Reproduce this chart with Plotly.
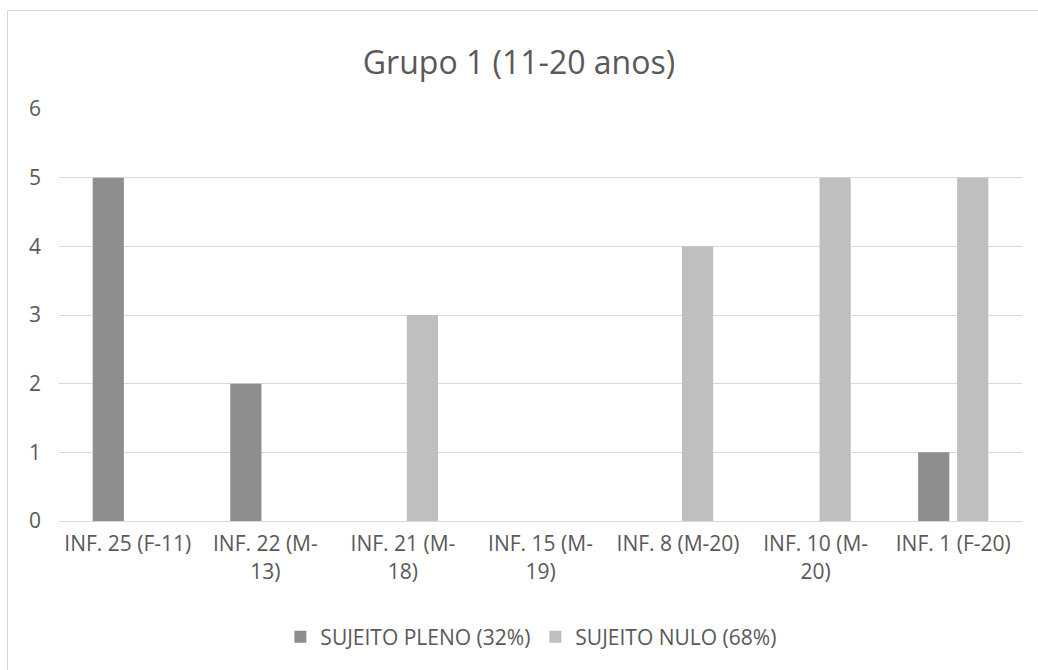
import plotly.graph_objects as go

# Informants (categories) and wrapped tick labels
categories = ["INF. 25 (F-11)", "INF. 22 (M-13)", "INF. 21 (M-18)", "INF. 15 (M-19)",
              "INF. 8 (M-20)", "INF. 10 (M-20)", "INF. 1 (F-20)"]
tick_labels = ["INF. 25 (F-11)", "INF. 22 (M-<br>13)", "INF. 21 (M-<br>18)", "INF. 15 (M-<br>19)",
               "INF. 8 (M-20)", "INF. 10 (M-<br>20)", "INF. 1 (F-20)"]

# Counts per informant
sujeito_pleno = [5, 2, 0, 0, 0, 0, 1]
sujeito_nulo = [0, 0, 3, 0, 4, 5, 5]

series_names = ["SUJEITO PLENO (32%)", "SUJEITO NULO (68%)"]
y_ticks = [0, 1, 2, 3, 4, 5, 6]

FONT = "Open Sans, sans-serif"
TXT = "#595959"
GRID = "#d9d9d9"

fig = go.Figure()
fig.add_trace(go.Bar(x=categories, y=sujeito_pleno, name=series_names[0],
                     marker=dict(color="#8e8e8e", line=dict(width=0))))
fig.add_trace(go.Bar(x=categories, y=sujeito_nulo, name=series_names[1],
                     marker=dict(color="#bfbfbf", line=dict(width=0))))

fig.update_layout(
    width=1038, height=670,
    margin=dict(l=59, r=16, t=109, b=149),
    paper_bgcolor="white", plot_bgcolor="white",
    barmode="group", bargap=0.433, bargroupgap=0.2,
    title=dict(text="Grupo 1 (11-20 anos)", x=0.5, xanchor="center",
               y=1 - 63 / 670, yanchor="middle", yref="container",
               font=dict(family=FONT, size=32, color=TXT)),
    font=dict(family=FONT, size=21, color=TXT),
    legend=dict(orientation="h", x=0.49, xanchor="center", y=-0.282, yanchor="middle",
                font=dict(family=FONT, size=21, color=TXT),
                traceorder="normal"),
    showlegend=True,
    xaxis=dict(tickmode="array", tickvals=categories, ticktext=tick_labels,
               showline=True, linecolor=GRID, linewidth=1, showgrid=False,
               ticks="", ticklabelstandoff=4,
               tickfont=dict(family=FONT, size=21, color=TXT)),
    yaxis=dict(range=[0, 6.0001], tickmode="array", tickvals=y_ticks,
               showgrid=True, gridcolor=GRID, gridwidth=1,
               zeroline=False, showline=False, ticks="",
               ticklabelstandoff=17,
               tickfont=dict(family=FONT, size=21, color=TXT)),
    shapes=[dict(type="rect", xref="paper", yref="paper",
                 x0=(7.5 - 59) / 963, x1=(1045 - 59) / 963,
                 y0=(521 - 680) / 412, y1=1 + (109 - 10.5) / 412,
                 line=dict(color=GRID, width=1), fillcolor="rgba(0,0,0,0)",
                 layer="below")],
)

fig.write_html("out.html")
